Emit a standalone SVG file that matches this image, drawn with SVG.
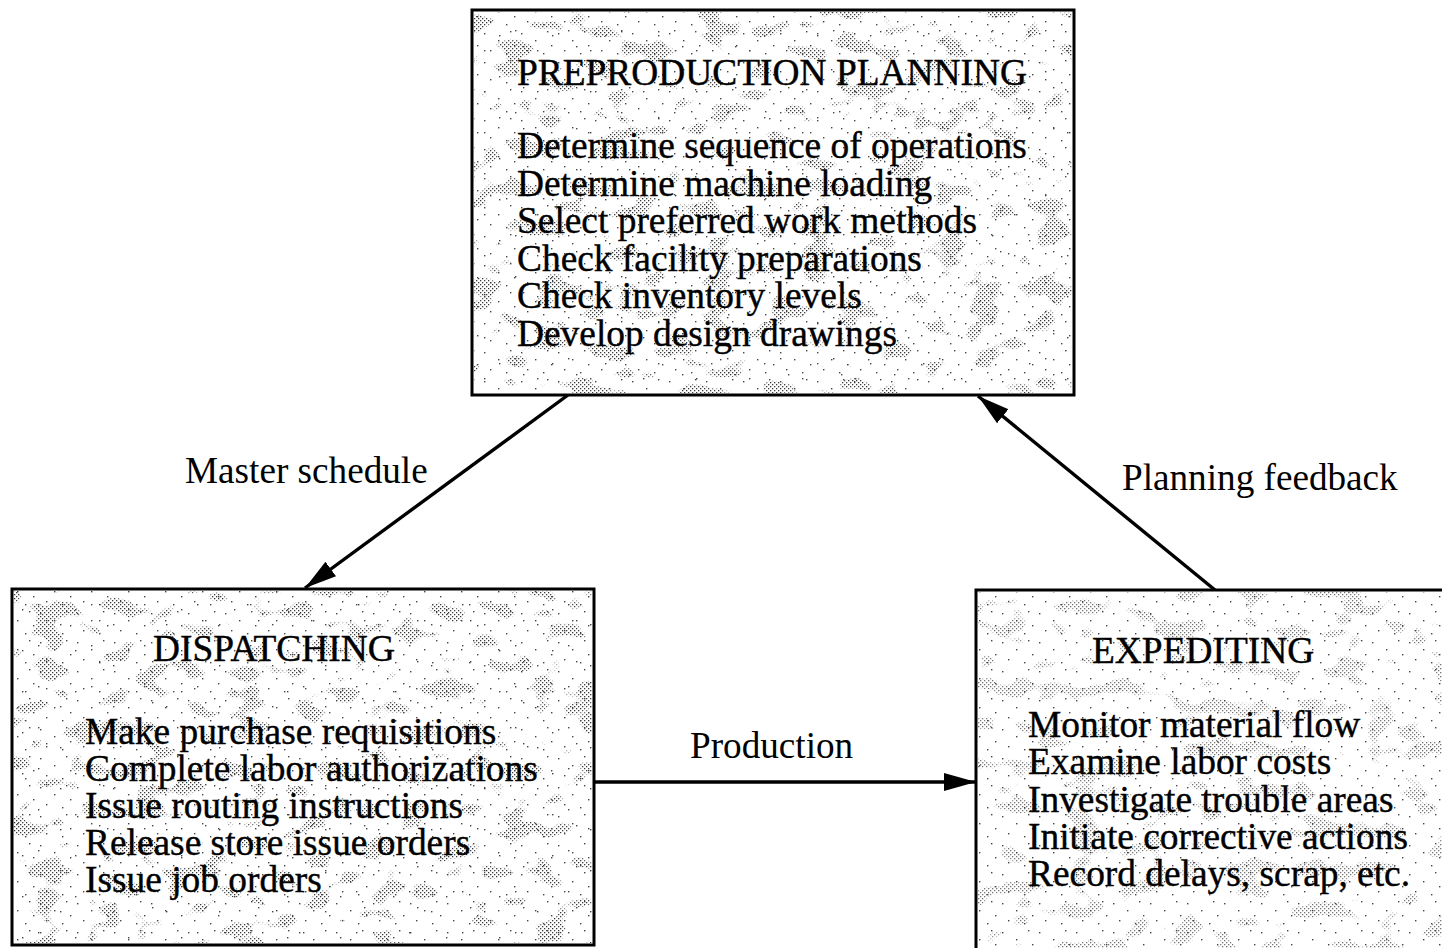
<svg xmlns="http://www.w3.org/2000/svg" width="1442" height="948" viewBox="0 0 1442 948">
  <style>
    .box { fill: #ffffff; stroke: #000000; stroke-width: 3; }
    .txt { font-family: "Liberation Serif", "Times New Roman", serif; font-size: 37.4px; fill: #000000; }
    .item { stroke: #000000; stroke-width: 0.4; }
    .label { font-family: "Liberation Serif", "Times New Roman", serif; font-size: 37.2px; fill: #000000; }
    .conn { fill: none; stroke: #000000; stroke-width: 3.4; marker-end: url(#arrow); }
  </style>
  <defs>
    <!-- filled triangular arrowhead -->
    <marker id="arrow" markerUnits="userSpaceOnUse" markerWidth="34" markerHeight="20" refX="32" refY="9" orient="auto">
      <path d="M0,0 L32,9 L0,18 Z" fill="#000000"/>
    </marker>
    <!-- fine diagonal dot screen used for the stippled fill -->
    <pattern id="screen" patternUnits="userSpaceOnUse" width="4" height="4">
      <rect x="0" y="0" width="1.3" height="1.3" fill="#3a3a3a"/>
      <rect x="2" y="2" width="1.3" height="1.3" fill="#3a3a3a"/>
    </pattern>
    <!-- sparse scattered specks -->
    <pattern id="specks" patternUnits="userSpaceOnUse" width="37" height="29">
      <rect x="3" y="4" width="1.4" height="1.4" fill="#444"/>
      <rect x="17" y="11" width="1.4" height="1.4" fill="#444"/>
      <rect x="29" y="2" width="1.4" height="1.4" fill="#444"/>
      <rect x="9" y="21" width="1.4" height="1.4" fill="#444"/>
      <rect x="25" y="24" width="1.4" height="1.4" fill="#444"/>
      <rect x="33" y="16" width="1.4" height="1.4" fill="#444"/>
    </pattern>
    <pattern id="specks2" patternUnits="userSpaceOnUse" width="53" height="41">
      <rect x="7" y="9" width="1.4" height="1.4" fill="#444"/>
      <rect x="38" y="30" width="1.4" height="1.4" fill="#444"/>
      <rect x="22" y="35" width="1.4" height="1.4" fill="#444"/>
      <rect x="46" y="5" width="1.4" height="1.4" fill="#444"/>
    </pattern>
    <!-- irregular blotches that reveal the dot screen -->
    <filter id="blotch" x="0" y="0" width="1442" height="948" filterUnits="userSpaceOnUse">
      <feTurbulence type="fractalNoise" baseFrequency="0.03 0.05" numOctaves="2" seed="11" result="noise"/>
      <feColorMatrix in="noise" type="matrix" values="0 0 0 0 1  0 0 0 0 1  0 0 0 0 1  14 0 0 0 -8.2"/>
    </filter>
    <mask id="clumps" maskUnits="userSpaceOnUse" x="0" y="0" width="1442" height="948">
      <rect x="0" y="0" width="1442" height="948" fill="#ffffff" filter="url(#blotch)"/>
    </mask>
  </defs>

  <!-- connectors -->
  <g id="connectors">
    <path class="conn" d="M568,395 L305,588"/>
    <path class="conn" d="M594,782 L976,782"/>
    <path class="conn" d="M1215,590 L978,396"/>
    <text class="label" x="185" y="483">Master schedule</text>
    <text class="label" x="690" y="758">Production</text>
    <text class="label" x="1122" y="490">Planning feedback</text>
  </g>

  <!-- preproduction planning -->
  <g id="preproduction-planning">
    <rect class="box" x="472" y="10" width="602" height="385"/>
    <rect x="474" y="12" width="598" height="381" fill="url(#screen)" mask="url(#clumps)"/>
    <rect x="474" y="12" width="598" height="381" fill="url(#specks)"/>
    <rect x="474" y="12" width="598" height="381" fill="url(#specks2)"/>
    <text class="txt item" x="517" y="85">PREPRODUCTION PLANNING</text>
    <text class="txt item" x="517" y="158">Determine sequence of operations</text>
    <text class="txt item" x="517" y="195.5">Determine machine loading</text>
    <text class="txt item" x="517" y="233">Select preferred work methods</text>
    <text class="txt item" x="517" y="270.5">Check facility preparations</text>
    <text class="txt item" x="517" y="308">Check inventory levels</text>
    <text class="txt item" x="517" y="345.5">Develop design drawings</text>
  </g>

  <!-- dispatching -->
  <g id="dispatching">
    <rect class="box" x="12" y="589" width="582" height="356"/>
    <rect x="14" y="591" width="578" height="352" fill="url(#screen)" mask="url(#clumps)"/>
    <rect x="14" y="591" width="578" height="352" fill="url(#specks)"/>
    <rect x="14" y="591" width="578" height="352" fill="url(#specks2)"/>
    <text class="txt item" x="153" y="661">DISPATCHING</text>
    <text class="txt item" x="85" y="744">Make purchase requisitions</text>
    <text class="txt item" x="85" y="781">Complete labor authorizations</text>
    <text class="txt item" x="85" y="818">Issue routing instructions</text>
    <text class="txt item" x="85" y="855">Release store issue orders</text>
    <text class="txt item" x="85" y="892">Issue job orders</text>
  </g>

  <!-- expediting -->
  <g id="expediting">
    <rect class="box" x="976" y="590" width="470" height="360"/>
    <rect x="978" y="592" width="464" height="356" fill="url(#screen)" mask="url(#clumps)" opacity="0.7"/>
    <rect x="978" y="592" width="464" height="356" fill="url(#specks)"/>
    <text class="txt item" x="1092" y="663">EXPEDITING</text>
    <text class="txt item" x="1028" y="737">Monitor material flow</text>
    <text class="txt item" x="1028" y="774">Examine labor costs</text>
    <text class="txt item" x="1028" y="812">Investigate trouble areas</text>
    <text class="txt item" x="1028" y="849">Initiate corrective actions</text>
    <text class="txt item" x="1028" y="886">Record delays, scrap, etc.</text>
  </g>
</svg>
